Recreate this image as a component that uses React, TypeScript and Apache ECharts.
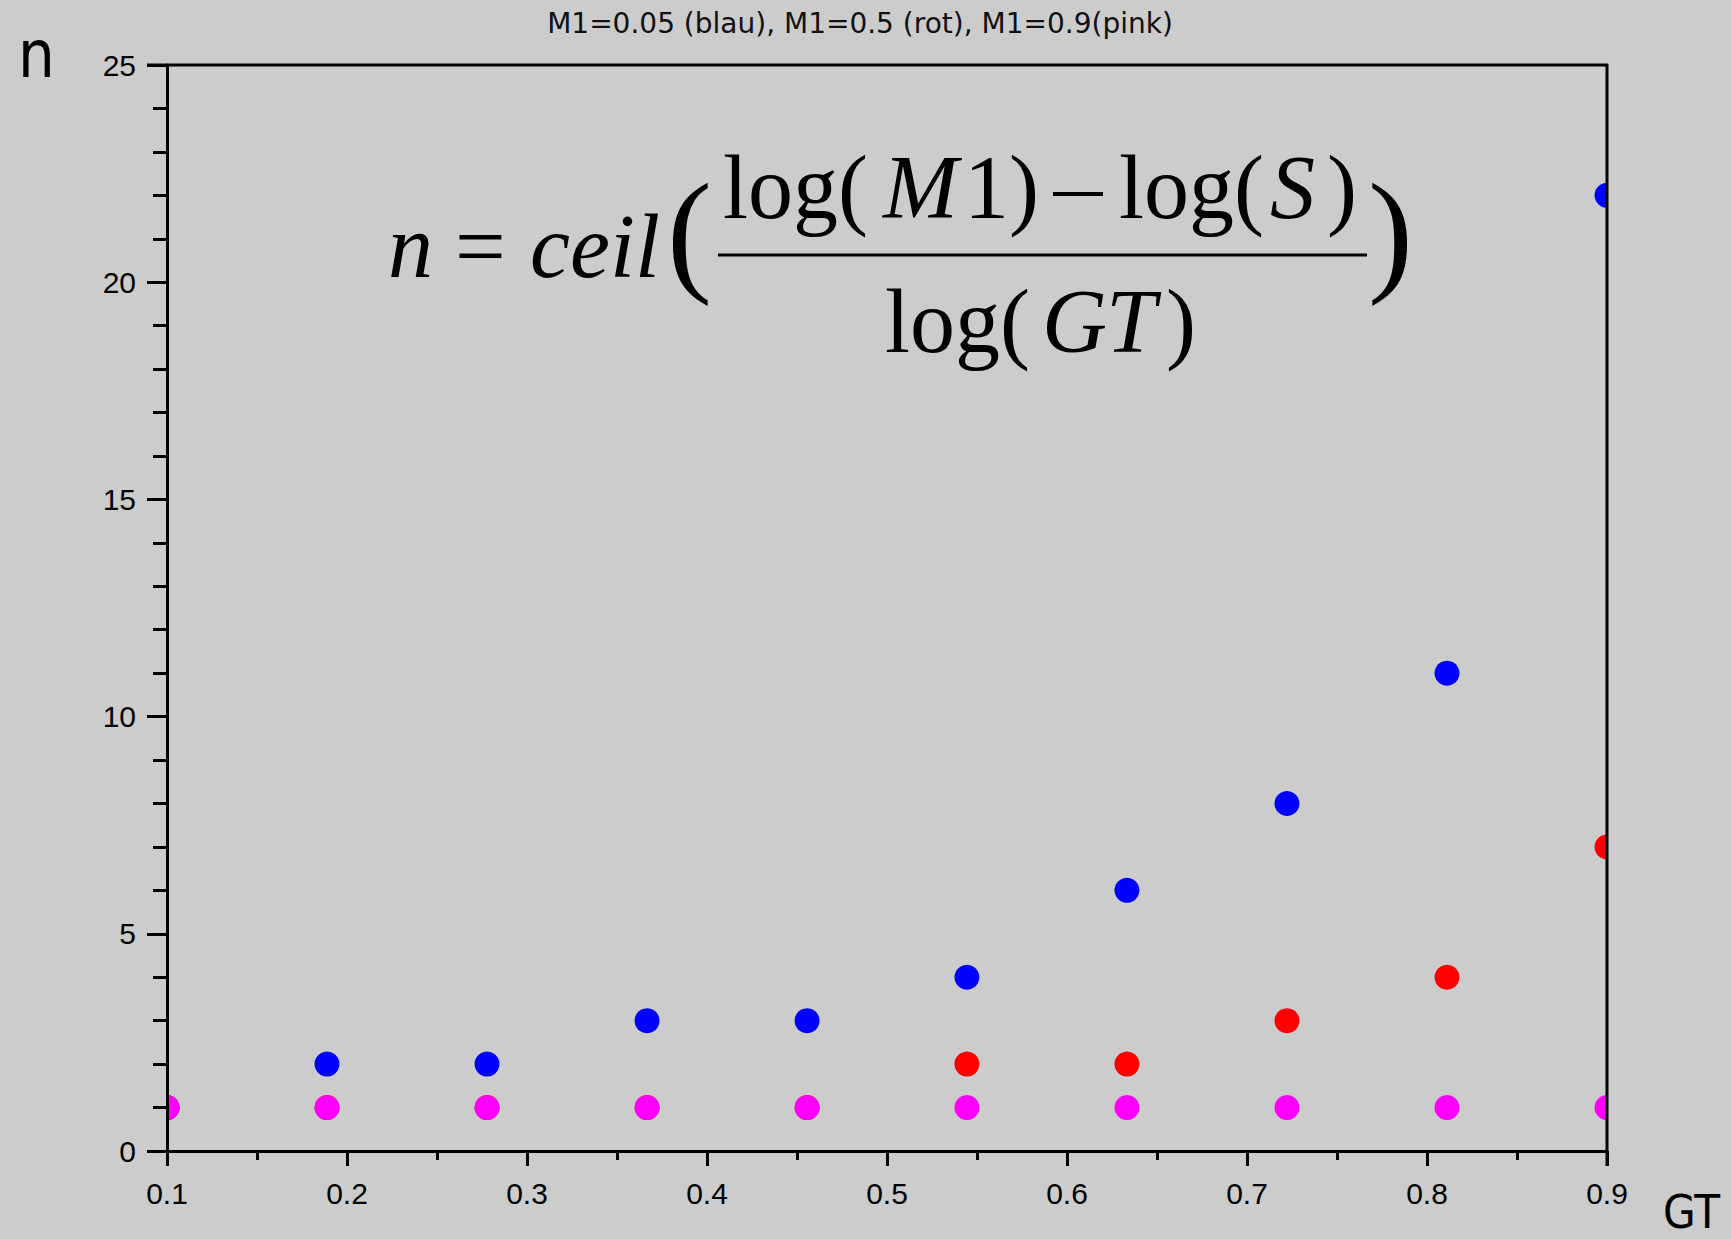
import React, { useEffect, useRef } from "react";
import * as echarts from "echarts";

// ---- data ----
const GT_VALUES = [0.1, 0.1889, 0.2778, 0.3667, 0.4556, 0.5444, 0.6333, 0.7222, 0.8111, 0.9];
const N_BLAU = [1, 2, 2, 3, 3, 4, 6, 8, 11, 22];
const N_ROT = [1, 1, 1, 1, 1, 2, 2, 3, 4, 7];
const N_PINK = [1, 1, 1, 1, 1, 1, 1, 1, 1, 1];

const SERIES_NAMES = ["M1=0.05 (blau)", "M1=0.5 (rot)", "M1=0.9 (pink)"];
const SERIES_COLORS = ["#0000ff", "#ff0000", "#ff00ff"];
const TITLE = "M1=0.05 (blau), M1=0.5 (rot), M1=0.9(pink)";

const X_MIN = 0.1;
const X_MAX = 0.9;
const X_INTERVAL = 0.1;
const Y_MIN = 0;
const Y_MAX = 25;
const Y_INTERVAL = 5;

const SERIF = "Liberation Serif";

function mathText(x: number, baseline: number, text: string, size: number, italic: boolean) {
  return {
    type: "text",
    x,
    y: baseline - 0.3375 * size,
    z: 20,
    silent: true,
    style: {
      text,
      fontSize: size,
      fontFamily: SERIF,
      fontStyle: italic ? "italic" : "normal",
      fill: "#000",
      align: "left",
      verticalAlign: "middle",
    },
  };
}

export default function App() {
  const ref = useRef<HTMLDivElement>(null);

  useEffect(() => {
    document.body.style.margin = "0";
    if (!ref.current) return;
    const chart = echarts.init(ref.current, undefined, { renderer: "svg" });

    const mkSeries = (vals: number[], idx: number) => ({
      type: "custom",
      name: SERIES_NAMES[idx],
      clip: true,
      z: 2,
      data: GT_VALUES.map((g, i) => [g, vals[i]]),
      encode: { x: 0, y: 1 },
      renderItem: (_params: any, api: any) => {
        const p = api.coord([api.value(0), api.value(1)]);
        return {
          type: "circle",
          shape: { cx: p[0], cy: p[1], r: 12.5 },
          style: { fill: SERIES_COLORS[idx] },
        };
      },
    });

    const gl = 3;
    const option: any = {
      animation: false,
      backgroundColor: "#cccccc",
      title: {
        text: TITLE,
        left: 855,
        textAlign: "center",
        top: 4,
        textStyle: {
          fontSize: 28,
          fontFamily: "DejaVu Sans",
          fontWeight: "normal",
          color: "#111",
        },
      },
      grid: { left: 167, right: 124, top: 65, bottom: 88, show: false },
      xAxis: {
        type: "value",
        min: X_MIN,
        max: X_MAX,
        interval: X_INTERVAL,
        z: 5,
        axisLine: { show: true, onZero: false, lineStyle: { color: "#000", width: gl } },
        axisTick: { show: true, length: 15, lineStyle: { color: "#000", width: gl } },
        minorTick: { show: true, splitNumber: 2, length: 9, lineStyle: { color: "#000", width: gl } },
        splitLine: { show: false },
        minorSplitLine: { show: false },
        axisLabel: {
          margin: 27,
          fontSize: 30,
          fontFamily: "Liberation Sans",
          color: "#000",
        },
      },
      yAxis: {
        type: "value",
        min: Y_MIN,
        max: Y_MAX,
        interval: Y_INTERVAL,
        z: 5,
        axisLine: { show: true, onZero: false, lineStyle: { color: "#000", width: gl } },
        axisTick: { show: true, length: 20, lineStyle: { color: "#000", width: gl } },
        minorTick: { show: true, splitNumber: 5, length: 14, lineStyle: { color: "#000", width: gl } },
        splitLine: { show: false },
        minorSplitLine: { show: false },
        axisLabel: {
          margin: 31,
          fontSize: 30,
          fontFamily: "Liberation Sans",
          color: "#000",
          padding: [10, 0, 0, 0],
        },
      },
      series: [mkSeries(N_BLAU, 0), mkSeries(N_ROT, 1), mkSeries(N_PINK, 2)],
      graphic: [
        // frame: top and right border lines
        {
          type: "line",
          z: 10,
          silent: true,
          shape: { x1: 147, y1: 65, x2: 1608, y2: 65 },
          style: { stroke: "#000", lineWidth: gl },
        },
        {
          type: "line",
          z: 10,
          silent: true,
          shape: { x1: 1607, y1: 64, x2: 1607, y2: 1166 },
          style: { stroke: "#000", lineWidth: gl },
        },
        // axis names
        {
          type: "text",
          x: 18,
          y: 54,
          scaleX: 0.88,
          z: 10,
          style: {
            text: "n",
            fontSize: 66,
            fontFamily: "DejaVu Sans",
            fill: "#000",
            align: "left",
            verticalAlign: "middle",
          },
        },
        {
          type: "text",
          x: 1663,
          y: 1212,
          scaleX: 0.92,
          z: 10,
          style: {
            text: "GT",
            fontSize: 46,
            fontFamily: "DejaVu Sans",
            fill: "#000",
            align: "left",
            verticalAlign: "middle",
          },
        },
        // formula n = ceil( (log(M1) - log(S)) / log(GT) )
        mathText(388, 277, "n", 90, true),
        mathText(455, 277, "=", 90, false),
        mathText(530, 277, "ceil", 90, true),
        mathText(667, 277, "(", 135, false),
        mathText(723, 218, "log(", 90, false),
        mathText(883, 218, "M", 90, true),
        mathText(964, 218, "1)", 90, false),
        {
          type: "line",
          z: 20,
          silent: true,
          shape: { x1: 1053, y1: 194, x2: 1103, y2: 194 },
          style: { stroke: "#000", lineWidth: 4 },
        },
        mathText(1119, 218, "log(", 90, false),
        mathText(1270, 218, "S", 90, true),
        mathText(1327, 218, ")", 90, false),
        {
          type: "line",
          z: 20,
          silent: true,
          shape: { x1: 718, y1: 255, x2: 1367, y2: 255 },
          style: { stroke: "#000", lineWidth: 3 },
        },
        mathText(885, 352, "log(", 90, false),
        mathText(1042, 352, "G", 90, true),
        mathText(1106, 352, "T", 90, true),
        mathText(1166, 352, ")", 90, false),
        mathText(1368, 277, ")", 135, false),
      ],
    };

    chart.setOption(option);
    return () => chart.dispose();
  }, []);

  return <div ref={ref} style={{ width: 1731, height: 1239 }} />;
}
